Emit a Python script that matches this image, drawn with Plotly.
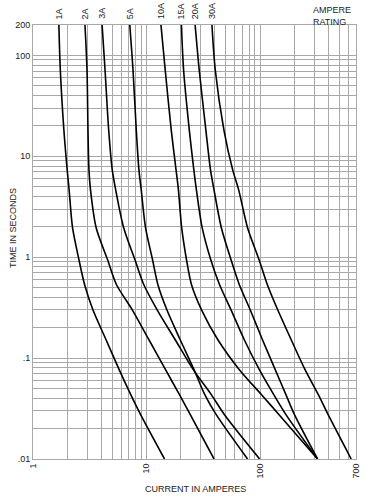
import math
import plotly.graph_objects as go

# time levels (seconds) shared by the curves, read top to bottom
TIME = [200, 72, 18.3, 7.33, 4.65, 1.96, 0.943, 0.533, 0.301, 0.152, 0.0768, 0.0434, 0.0275, 0.01]

# current (amperes) at each time level, per ampere rating
amps_1A = [1.69, 1.74, 1.87, 2.0, 2.08, 2.23, 2.54, 2.85, 3.37, 4.40, 5.74, 7.26, 8.87, 14.4]
amps_2A = [2.87, 2.99, 3.05, 3.11, 3.21, 3.60, 4.54, 5.44, 7.49, 10.5, 14.7, 19.5, 24.3, 39.3]
amps_3A = [4.06, 4.31, 4.64, 4.99, 5.35, 6.29, 7.91, 9.47, 12.4, 17.9, 25.8, 37.2, 48.6, 99.2]
amps_5A = [7.12, 7.60, 8.12, 8.57, 8.98, 9.80, 11.3, 12.6, 15.1, 19.8, 26.2, 32.6, 41.1, 77.6]
amps_10A = [13.4, 14.6, 16.5, 18.2, 19.1, 20.4, 22.5, 24.9, 30.5, 42.5, 65.7, 103, 147, 321]
amps_15A = [20.3, 21.2, 23.8, 26.1, 27.5, 30.9, 36.8, 44.0, 55.5, 72.6, 98.6, 132, 169, 321]
amps_20A = [26.8, 29.1, 33.3, 36.6, 39.3, 45.6, 55.5, 65.7, 81.9, 105, 136, 169, 201, 321]
amps_30A = [37.7, 40.3, 48.0, 57.4, 64.8, 77.6, 98.0, 116, 143, 188, 249, 326, 398, 635]

ratings = ["1A", "2A", "3A", "5A", "10A", "15A", "20A", "30A"]
curves = [amps_1A, amps_2A, amps_3A, amps_5A, amps_10A, amps_15A, amps_20A, amps_30A]

x_tickvals = [1, 2, 3, 4, 5, 6, 7, 8, 9, 10, 20, 30, 40, 50, 60, 70, 80, 90, 100, 200, 300, 400, 500, 600, 700]
x_ticklabels = {1: "1", 10: "10", 100: "100", 700: "700"}
y_tickvals = [0.01, 0.02, 0.03, 0.04, 0.05, 0.06, 0.07, 0.08, 0.09,
              0.1, 0.2, 0.3, 0.4, 0.5, 0.6, 0.7, 0.8, 0.9,
              1, 2, 3, 4, 5, 6, 7, 8, 9,
              10, 20, 30, 40, 50, 60, 70, 80, 90, 100, 200]
y_ticklabels = {0.01: ".01", 0.1: ".1", 1: "1", 10: "10", 100: "100", 200: "200"}

FONT = "Liberation Sans, Arial, sans-serif"
GRID = "#a8a8a8"
TXT = "#222222"
PLOT_H = 434.4
PLOT_W = 327

fig = go.Figure()
for name, amps in zip(ratings, curves):
    fig.add_trace(go.Scatter(
        x=amps, y=TIME, mode="lines", name=name,
        line=dict(color="black", width=1.6, shape="spline", smoothing=0.8),
        showlegend=False, hoverinfo="skip",
    ))

annotations = []
for name, amps in zip(ratings, curves):
    annotations.append(dict(
        x=math.log10(amps[0]), y=1.009, xref="x", yref="paper",
        text=name, textangle=-90, showarrow=False,
        xanchor="center", yanchor="bottom",
        font=dict(family=FONT, size=9, color=TXT),
    ))
annotations += [
    dict(x=(314 - 33) / PLOT_W, y=1.0 + 22 / PLOT_H, xref="paper", yref="paper",
         text="AMPERE<br>RATING", align="left",
         showarrow=False, xanchor="left", yanchor="top",
         font=dict(family=FONT, size=9, color=TXT)),
    dict(x=(197.5 - 33) / PLOT_W, y=-30 / PLOT_H, xref="paper", yref="paper",
         text="CURRENT IN AMPERES",
         showarrow=False, xanchor="center", yanchor="middle",
         font=dict(family=FONT, size=9, color=TXT)),
    dict(x=-20 / PLOT_W, y=(459.4 - 228) / PLOT_H, xref="paper", yref="paper",
         text="TIME IN SECONDS",
         textangle=-90, showarrow=False, xanchor="center", yanchor="middle",
         font=dict(family=FONT, size=9, color=TXT)),
]

fig.update_layout(
    width=373, height=496,
    margin=dict(l=33, r=13, t=25, b=36.6),
    paper_bgcolor="white", plot_bgcolor="white",
    annotations=annotations,
    font=dict(family=FONT, size=9, color=TXT),
    hovermode=False,
)
fig.update_xaxes(
    type="log", range=[0, math.log10(700)],
    tickmode="array", tickvals=x_tickvals,
    ticktext=[x_ticklabels.get(v, "") for v in x_tickvals],
    tickangle=-90, ticks="", showgrid=True, gridcolor=GRID, gridwidth=1,
    showline=True, linecolor=GRID, linewidth=1, mirror=True, zeroline=False,
    tickfont=dict(family=FONT, size=9, color=TXT),
)
fig.update_yaxes(
    type="log", range=[-2, math.log10(200)],
    tickmode="array", tickvals=y_tickvals,
    ticktext=[y_ticklabels.get(v, "") for v in y_tickvals],
    ticks="", showgrid=True, gridcolor=GRID, gridwidth=1,
    showline=True, linecolor=GRID, linewidth=1, mirror=True, zeroline=False,
    tickfont=dict(family=FONT, size=9, color=TXT),
)

# remove the browser's default body margin so the figure fills the window
fig.write_html(
    "out.html",
    config={"displayModeBar": False, "staticPlot": True},
    post_script="document.body.style.margin='0';document.body.style.overflow='hidden';",
)
